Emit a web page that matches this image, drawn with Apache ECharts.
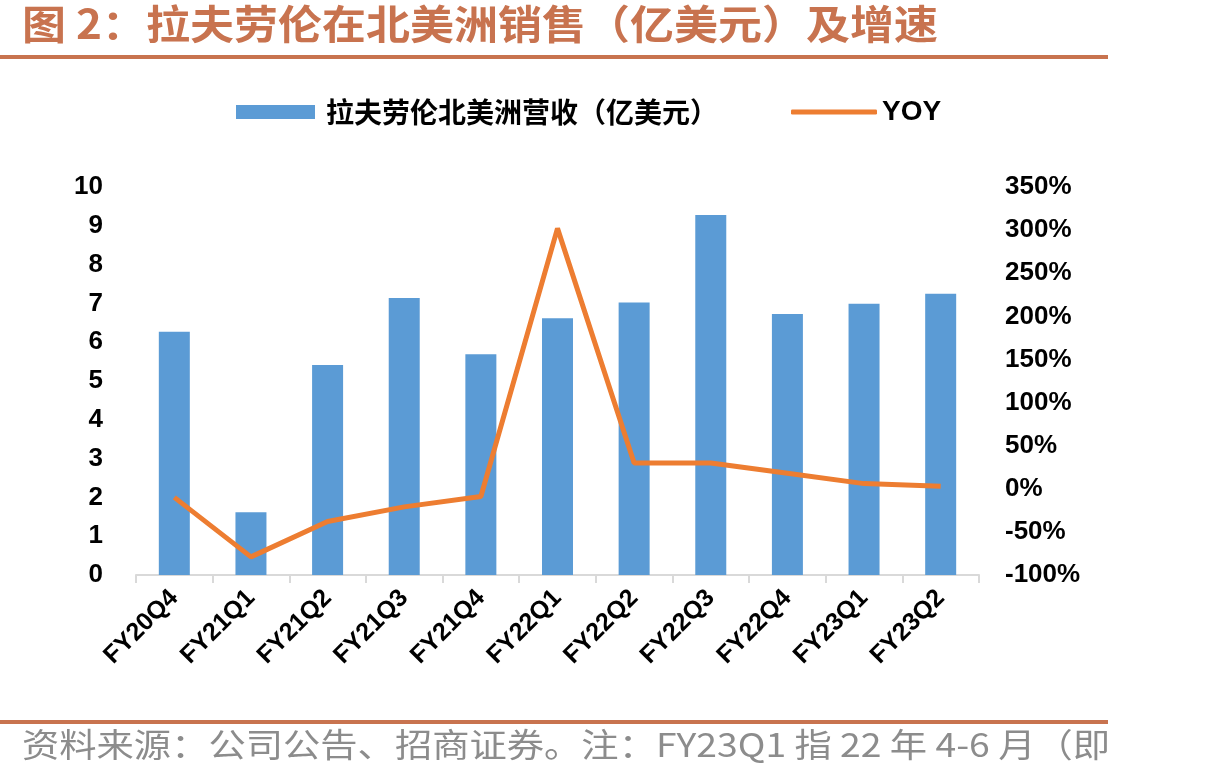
<!DOCTYPE html>
<html style="height: 100%">
<head>
    <meta charset="utf-8">
    <title>拉夫劳伦北美洲营收</title>
    <script src="https://cdn.jsdelivr.net/npm/echarts@6/dist/echarts.min.js"></script>
</head>
<body style="height: 100%; margin: 0; background: #fff">
<div id="container" style="width: 1216px; height: 782px"></div>

<script type="text/javascript">

    // data
    let quarters = ['FY20Q4', 'FY21Q1', 'FY21Q2', 'FY21Q3', 'FY21Q4', 'FY22Q1',
        'FY22Q2', 'FY22Q3', 'FY22Q4', 'FY23Q1', 'FY23Q2']
    let revenue = [6.27, 1.62, 5.41, 7.14, 5.69, 6.62, 7.02, 9.28, 6.73, 6.99, 7.25]
    let yoy = [-10, -79, -38, -21, -9, 302, 30, 30, 18, 6, 3]

    let barName = '拉夫劳伦北美洲营收（亿美元）'
    let lineName = 'YOY'

    let latin = 'Liberation Sans, Arial, sans-serif'
    let cjk = 'Noto Sans CJK SC, sans-serif'
    let brown = '#C8734F'

    let dom = document.getElementById('container')
    let chart = echarts.init(dom)

    chart.setOption({
        animation: false,
        backgroundColor: '#fff',
        graphic: [
            // title and the rules above/below (fonts stretched a bit to the original width)
            {type: 'text', x: 22, y: 4, scaleX: 1.1,
                style: {text: '图 2：拉夫劳伦在北美洲销售（亿美元）及增速', fill: brown,
                    font: 'bold 40px ' + cjk}},
            {type: 'rect', shape: {x: 0, y: 55, width: 1108, height: 4}, style: {fill: brown}},
            {type: 'rect', shape: {x: 0, y: 720, width: 1108, height: 4}, style: {fill: brown}},
            {type: 'text', x: 22, y: 728, scaleX: 1.13,
                style: {text: '资料来源：公司公告、招商证券。注：FY23Q1 指 22 年 4-6 月（即', fill: '#8c8c8c',
                    font: '33px ' + cjk}}
        ],
        legend: [
            {data: [{name: barName, icon: 'rect'}], left: 236, top: 98, padding: 0,
                itemWidth: 79, itemHeight: 14,
                textStyle: {fontSize: 28, fontWeight: 'bold', color: '#000', fontFamily: cjk, padding: [0, 0, 0, 6]}},
            {data: [{name: lineName, icon: 'roundRect'}], left: 791, top: 98, padding: 0,
                itemWidth: 86, itemHeight: 5,
                textStyle: {fontSize: 28, fontWeight: 'bold', color: '#000', fontFamily: latin}}
        ],
        grid: {left: 136, right: 237, top: 187, bottom: 207, containLabel: false},
        xAxis: {
            type: 'category',
            data: quarters,
            axisLine: {lineStyle: {color: '#d9d9d9', width: 2}},
            axisTick: {show: true, length: 8, lineStyle: {color: '#d9d9d9', width: 2}},
            axisLabel: {rotate: 45, fontSize: 25, fontWeight: 'bold', color: '#000',
                fontFamily: latin, margin: 19, interval: 0}
        },
        yAxis: [
            {type: 'value', min: 0, max: 10, interval: 1,
                splitLine: {show: false}, axisLine: {show: false}, axisTick: {show: false},
                axisLabel: {fontSize: 26, fontWeight: 'bold', color: '#000', fontFamily: latin, margin: 33}},
            {type: 'value', min: -100, max: 350, interval: 50,
                splitLine: {show: false}, axisLine: {show: false}, axisTick: {show: false},
                axisLabel: {formatter: '{value}%', fontSize: 26, fontWeight: 'bold', color: '#000',
                    fontFamily: latin, margin: 26}}
        ],
        series: [
            {name: barName, type: 'bar', data: revenue, barWidth: 31,
                itemStyle: {color: '#5B9BD5'}},
            {name: lineName, type: 'line', yAxisIndex: 1, data: yoy,
                symbol: 'none', lineStyle: {color: '#ED7D31', width: 5},
                itemStyle: {color: '#ED7D31'}}
        ]
    })

</script>
</body>
</html>
